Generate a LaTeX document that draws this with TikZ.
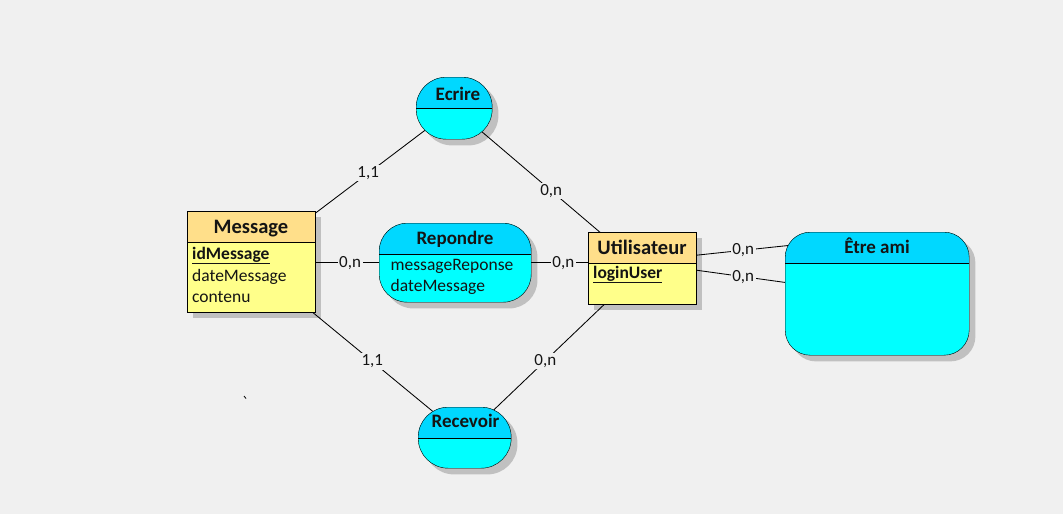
\documentclass[tikz,border=0pt]{standalone}
\usepackage{fontspec}
\setmainfont{Carlito}
\usetikzlibrary{calc}
\definecolor{bgc}{RGB}{240,240,240}
\definecolor{enthead}{RGB}{255,223,138}
\definecolor{entbody}{RGB}{255,255,138}
\definecolor{asshead}{RGB}{0,216,255}
\definecolor{assbody}{RGB}{0,255,255}
\definecolor{shadowc}{RGB}{192,192,192}
\definecolor{txt}{RGB}{20,20,20}
\pgfdeclarelayer{bglayer}
\pgfdeclarelayer{shadowlayer}
\pgfdeclarelayer{linelayer}
\pgfsetlayers{bglayer,shadowlayer,linelayer,main}
\begin{document}
\begin{tikzpicture}[x=1pt,y=-1pt,line width=1pt,
  boxbase/.style={draw=black,inner sep=0pt,anchor=north west},
  hdr/.style n args={2}{path picture={
    \fill[#2,sharp corners] (path picture bounding box.north west) rectangle ([yshift=-#1pt]path picture bounding box.north east);
    \draw[black,line width=1pt,sharp corners] ([yshift=-#1pt]path picture bounding box.north west) -- ([yshift=-#1pt]path picture bounding box.north east);}},
  ent/.style={boxbase,fill=entbody,hdr={#1}{enthead}},
  ass/.style n args={2}{boxbase,fill=assbody,rounded corners=#2,hdr={#1}{asshead}},
  enttitle/.style={anchor=base,inner sep=0pt,text=txt,font=\fontsize{20.5}{24}\selectfont\bfseries},
  asstitle/.style={anchor=base,inner sep=0pt,text=txt,font=\fontsize{19}{23}\selectfont\bfseries},
  attr/.style={anchor=base west,inner sep=0pt,text=txt,font=\fontsize{17.5}{21}\selectfont},
  lbl/.style={fill=bgc,inner sep=1.5pt,text=txt,font=\fontsize{17}{20}\selectfont},
  conn/.style={draw=black,line width=0.85pt},
  shadowbox/.style={fill=shadowc,draw=none,rounded corners=#1}]

\begin{pgfonlayer}{bglayer}
  \fill[bgc] (0,0) rectangle (1063,514);
\end{pgfonlayer}

% Entities
\node[ent=31,minimum width=128pt,minimum height=101pt] (msg) at (187,211) {};
\node[enttitle] (msgT) at (251,233) {Message};
\node[attr] (msgA1) at (192,259) {\underline{\textbf{idMessage}}};
\node[attr] (msgA2) at (192,281) {dateMessage};
\node[attr] (msgA3) at (192,302) {contenu};

\node[ent=31,minimum width=108pt,minimum height=72pt] (util) at (588,232) {};
\node[enttitle] (utilT) at (642,254) {Utilisateur};
\node[attr] (utilA1) at (593,278) {\underline{\textbf{loginUser}}};

% Associations
\node[ass={31}{28pt},minimum width=152pt,minimum height=79pt] (rep) at (379,223) {};
\node[asstitle] (repT) at (455,244) {Repondre};
\node[attr] (repA1) at (390.5,270) {messageReponse};
\node[attr] (repA2) at (390.5,291.5) {dateMessage};

\node[ass={31}{30pt},minimum width=76pt,minimum height=62pt] (ecr) at (416,77) {};
\node[asstitle] (ecrT) at (458,100.5) {Ecrire};

\node[ass={31}{30pt},minimum width=93pt,minimum height=61pt] (rec) at (418,407) {};
\node[asstitle] (recT) at (465.5,427.5) {Recevoir};

\node[ass={31}{25pt},minimum width=184pt,minimum height=123pt] (ami) at (785,232) {};
\node[asstitle] (amiT) at (877,253.5) {Être ami};

% stray mark
\draw[line width=0.8pt] (244,396) -- (246,398.5);

% Shadows
\begin{pgfonlayer}{shadowlayer}
  \foreach \n/\r in {msg/0,util/0,rep/28,ecr/30,rec/30,ami/25}
    \fill[shadowbox=\r pt] ([shift={(6,6)}]\n.north west) rectangle ([shift={(6,6)}]\n.south east);
\end{pgfonlayer}

% Connectors
\begin{pgfonlayer}{linelayer}
  \draw[conn] (msg.center) -- node[lbl,pos=0.576]{1,1} (ecr.center);
  \draw[conn] (ecr.center) -- node[lbl,pos=0.516]{0,n} (util.center);
  \draw[conn] (msg.center) -- node[lbl,pos=0.567]{1,1} (rec.center);
  \draw[conn] (rec.center) -- node[lbl,pos=0.454]{0,n} (util.center);
  \draw[conn] (msg.center |- rep.center) -- node[lbl,pos=0.485]{0,n} (rep.center);
  \draw[conn] (rep.center) -- node[lbl,pos=0.578]{0,n} (rep.center -| util.center);
  \draw[conn] ([yshift=13pt]util.east) -- node[lbl,pos=0.475]{0,n} ([xshift=10pt,yshift=48.9pt]ami.west);
  \draw[conn] ([yshift=-2pt]util.east) -- node[lbl,pos=0.475]{0,n} ([xshift=10pt,yshift=9.9pt]ami.west);
\end{pgfonlayer}
\end{tikzpicture}
\end{document}
